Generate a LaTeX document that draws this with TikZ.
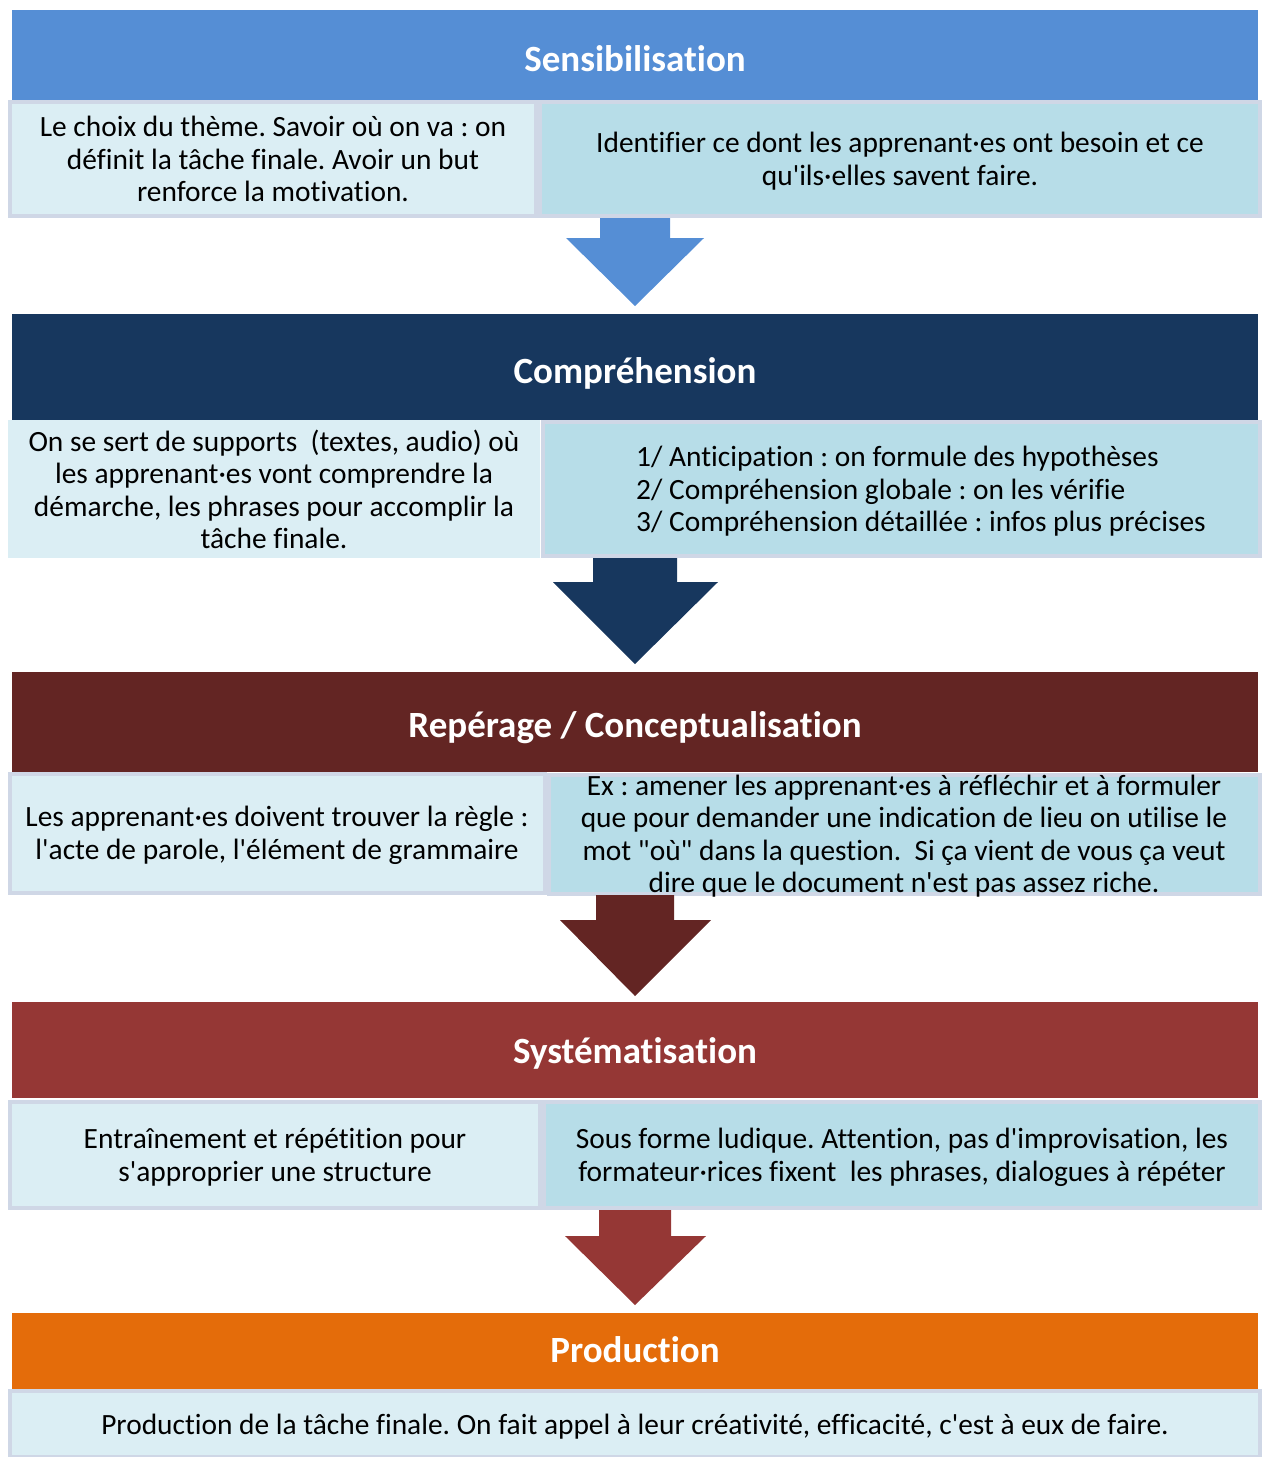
\documentclass[tikz,border=0pt]{standalone}
\usepackage{fontspec}
\setmainfont{Carlito}[Ligatures={TeXOff,CommonOff}]
\definecolor{hA}{HTML}{558ED5}
\definecolor{hB}{HTML}{17375E}
\definecolor{hC}{HTML}{632523}
\definecolor{hD}{HTML}{953735}
\definecolor{hE}{HTML}{E46C0A}
\definecolor{lightA}{HTML}{DBEEF4}
\definecolor{lightB}{HTML}{B7DDE8}
\definecolor{bord}{HTML}{CFD7E6}
\frenchspacing
\begin{document}
\begin{tikzpicture}[x=1pt,y=-1pt,
  hdr/.style={rectangle, inner sep=0pt, outer sep=0pt, minimum width=1246pt},
  ttl/.style={inner sep=0pt, anchor=base, text=white, font=\fontsize{37}{44}\selectfont\bfseries},
  boxl/.style={rectangle, draw=bord, line width=4pt, fill=lightA, inner sep=0pt, outer sep=0pt,
    align=center, text depth=0pt, font=\fontsize{29.4}{32.5}\selectfont},
  boxr/.style={boxl, fill=lightB}
]
\useasboundingbox (0,0) rectangle (1262,1457);
% ---------- Stage 1
\node[hdr, fill=hA, minimum height=90pt] (h1) at (635,55) {};
\node[ttl] (t1) at (635,71) {Sensibilisation};
\node[boxl, minimum width=526pt, minimum height=114pt] (l1) at (273,159)
  {Le choix du thème. Savoir où on va : on\\définit la tâche finale. Avoir un but\\renforce la motivation.};
\node[boxr, minimum width=720pt, minimum height=114pt] (r1) at (900,159)
  {Identifier ce dont les apprenant·es ont besoin et ce\\qu'ils·elles savent faire.};
\fill[hA] (600,218) -- (670,218) -- (670,238) -- (704,238) -- (635,306) -- (566,238) -- (600,238) -- cycle;
% ---------- Stage 2
\node[hdr, fill=hB, minimum height=106pt] (h2) at (635,367) {};
\node[ttl] (t2) at (635,383) {Compréhension};
\node[boxl, draw=none, minimum width=532pt, minimum height=138pt] (l2) at (274,489)
  {On se sert de supports~ (textes, audio) où\\les apprenant·es vont comprendre la\\démarche, les phrases pour accomplir la\\tâche finale.};
\node[boxr, minimum width=717pt, minimum height=134pt] (r2) at (901,489) {};
\node[align=left, anchor=west, text depth=0pt, font=\fontsize{29.4}{32.5}\selectfont, inner sep=0pt] (r2t) at (636,489)
  {1/ Anticipation : on formule des hypothèses\\2/ Compréhension globale : on les vérifie\\3/ Compréhension détaillée : infos plus précises};
\fill[hB] (593,558) -- (677,558) -- (677,582) -- (718,582) -- (635,664) -- (553,582) -- (593,582) -- cycle;
% ---------- Stage 3
\node[hdr, fill=hC, minimum height=100pt] (h3) at (635,722) {};
\node[ttl] (t3) at (635,737) {Repérage / Conceptualisation};
\node[boxl, minimum width=535pt, minimum height=119pt] (l3) at (277,833)
  {Les apprenant·es doivent trouver la règle :\\l'acte de parole, l'élément de grammaire};
\node[boxr, minimum width=711pt, minimum height=119pt] (r3) at (904,834)
  {Ex : amener les apprenant·es à réfléchir et à formuler\\que pour demander une indication de lieu on utilise le\\mot "où" dans la question.~ Si ça vient de vous ça veut\\dire que le document n'est pas assez riche.};
\fill[hC] (596,895) -- (674,895) -- (674,920) -- (711,920) -- (635,996) -- (560,920) -- (596,920) -- cycle;
% ---------- Stage 4
\node[hdr, fill=hD, minimum height=96pt] (h4) at (635,1050) {};
\node[ttl] (t4) at (635,1063) {Systématisation};
\node[boxl, minimum width=530pt, minimum height=106pt] (l4) at (275,1155)
  {Entraînement et répétition pour\\s'approprier une structure};
\node[boxr, minimum width=716pt, minimum height=106pt] (r4) at (902,1155)
  {Sous forme ludique. Attention, pas d'improvisation, les\\formateur·rices fixent~ les phrases, dialogues à répéter};
\fill[hD] (599,1210) -- (671,1210) -- (671,1236) -- (706,1236) -- (635,1305) -- (565,1236) -- (599,1236) -- cycle;
% ---------- Stage 5
\node[hdr, fill=hE, minimum height=77pt] (h5) at (635,1351.5) {};
\node[ttl] (t5) at (635,1362) {Production};
\node[boxl, minimum width=1250pt, minimum height=66pt] (l5) at (635,1424)
  {Production de la tâche finale. On fait appel à leur créativité, efficacité, c'est à eux de faire.};
\end{tikzpicture}
\end{document}
